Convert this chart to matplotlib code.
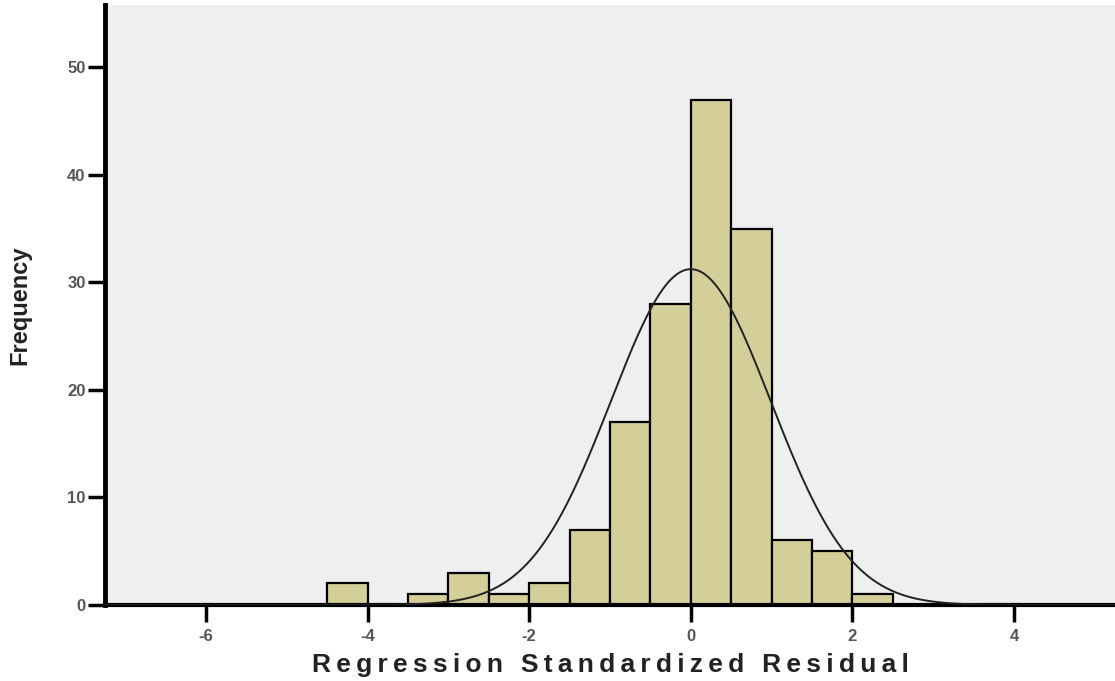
import numpy as np
import matplotlib
matplotlib.use("Agg")
import matplotlib.pyplot as plt

# Histogram data (bin edges, width 0.5)
bin_left = [-4.5, -4.0, -3.5, -3.0, -2.5, -2.0, -1.5, -1.0, -0.5, 0.0, 0.5, 1.0, 1.5, 2.0]
counts = [2, 0, 1, 3, 1, 2, 7, 17, 28, 47, 35, 6, 5, 1]
bin_width = 0.5
# Fitted normal curve parameters
mean = 0.0
std_dev = 0.99
n_total = sum(counts)

xticks = [-6, -4, -2, 0, 2, 4]
yticks = [0, 10, 20, 30, 40, 50]

fig = plt.figure(figsize=(11.15, 6.81), dpi=100)
ax = fig.add_axes([0.0942, 0.1116, 0.9058, 0.8811])
ax.set_facecolor("#efefef")
fig.patch.set_facecolor("white")

ax.bar(bin_left, counts, width=bin_width, align="edge", color="#d4cf98",
       edgecolor="black", linewidth=1.6, zorder=2)

xs = np.linspace(-7.25, 5.25, 600)
ys = n_total * bin_width / (std_dev * np.sqrt(2 * np.pi)) * np.exp(-0.5 * ((xs - mean) / std_dev) ** 2)
ax.plot(xs, ys, color="#222222", linewidth=1.4, zorder=3)

ax.set_xlim(-7.25, 5.25)
ax.set_ylim(0, 55.8)
ax.set_xticks(xticks)
ax.set_xticklabels([str(t) for t in xticks])
ax.set_yticks(yticks)
ax.set_yticklabels([str(t) for t in yticks])

for s in ["top", "right"]:
    ax.spines[s].set_visible(False)
ax.spines["left"].set_linewidth(3.5)
ax.spines["bottom"].set_linewidth(3)

ax.tick_params(axis="both", direction="out", length=12, width=2.5, colors="black",
               labelcolor="#555555", labelsize=12)
ax.tick_params(axis="x", pad=5)
ax.tick_params(axis="y", pad=2)
for lab in ax.get_xticklabels() + ax.get_yticklabels():
    lab.set_family("Liberation Sans")
    lab.set_fontweight("bold")

label_text = "Regression Standardized Residual"
spaced = "\u2009".join(label_text).replace("\u2009 \u2009", " \u2009\u2009")
ax.set_xlabel(spaced, family="Liberation Sans", fontweight="bold", fontsize=19,
              labelpad=7, color="#222222")
ax.set_ylabel("Frequency", family=["Liberation Sans Narrow", "Liberation Sans"],
              fontweight="bold", fontsize=17, labelpad=26, color="#222222")

fig.savefig("out.png", dpi=100)
